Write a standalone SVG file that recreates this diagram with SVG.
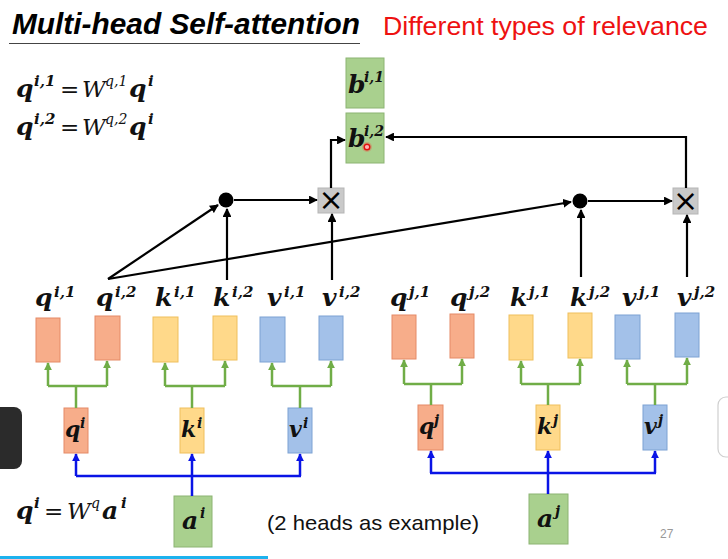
<svg xmlns="http://www.w3.org/2000/svg" width="728" height="559" viewBox="0 0 728 559">
  <defs>
    <style>
      .title { font-family: "Liberation Sans", Arial, sans-serif; font-weight: bold; font-style: italic; font-size: 29px; fill: #000; }
      .red { font-family: "Liberation Sans", Arial, sans-serif; font-size: 25px; fill: #ee1111; }
      .note { font-family: "Liberation Sans", Arial, sans-serif; font-size: 21px; fill: #111; }
      .page { font-family: "Liberation Sans", Arial, sans-serif; font-size: 12px; fill: #999; }
      .m { font-family: "DejaVu Serif", "Liberation Serif", serif; font-weight: bold; font-style: italic; font-size: 25px; fill: #111; }
      .mb { font-family: "DejaVu Serif", "Liberation Serif", serif; font-weight: bold; font-style: italic; font-size: 22px; fill: #111; }
      .mi { font-family: "DejaVu Serif", "Liberation Serif", serif; font-style: italic; font-size: 23px; fill: #111; }
      .eq { font-family: "DejaVu Serif", "Liberation Serif", serif; font-size: 23px; fill: #111; }
      .s { font-size: 15px; }
      .sb { font-size: 14px; }
      .q { fill: #f7ad8a; stroke: #e58a66; stroke-width: 1; }
      .k { fill: #ffd98a; stroke: #efbf5c; stroke-width: 1; }
      .v { fill: #a3c1e9; stroke: #7ca2d3; stroke-width: 1; }
      .g { fill: #a9d08e; stroke: #8cb473; stroke-width: 1; }
      .mul { fill: #c9c9c9; stroke: #b5b5b5; stroke-width: 1; }
      .blk { fill: none; stroke: #000; stroke-width: 2.2; }
      .grn { fill: none; stroke: #70ad47; stroke-width: 2.5; }
      .blu { fill: none; stroke: #0a14e6; stroke-width: 2.5; }
    </style>
    <marker id="ah" viewBox="0 0 10 10" refX="9" refY="5" markerWidth="4" markerHeight="4" orient="auto" markerUnits="strokeWidth">
      <path d="M0,0 L10,5 L0,10 z" fill="#000"/>
    </marker>
    <marker id="ag" viewBox="0 0 10 10" refX="9" refY="5" markerWidth="3.2" markerHeight="3.2" orient="auto" markerUnits="strokeWidth">
      <path d="M0,0 L10,5 L0,10 z" fill="#70ad47"/>
    </marker>
    <marker id="ab" viewBox="0 0 10 10" refX="9" refY="5" markerWidth="3.2" markerHeight="3.2" orient="auto" markerUnits="strokeWidth">
      <path d="M0,0 L10,5 L0,10 z" fill="#0a14e6"/>
    </marker>
  </defs>

  <rect x="0" y="0" width="728" height="559" fill="#fff"/>

  <!-- heading -->
  <g id="heading">
    <text class="title" x="12" y="34" textLength="348" lengthAdjust="spacingAndGlyphs">Multi-head Self-attention</text>
    <line x1="9" y1="43.5" x2="360" y2="43.5" stroke="#444" stroke-width="1.2"/>
    <text class="red" x="383" y="35" textLength="325" lengthAdjust="spacingAndGlyphs">Different types of relevance</text>
  </g>

  <!-- equations -->
  <g id="equations">
    <text class="m" x="16" y="97" font-size="25">q<tspan class="s" x="34" y="86">i,1</tspan></text>
    <text class="eq" x="60" y="97">=</text>
    <text class="mi" x="82" y="97">W<tspan font-size="14" x="105" y="86">q,1</tspan></text>
    <text class="m" x="129" y="97" font-size="25">q<tspan class="s" x="148" y="86">i</tspan></text>

    <text class="m" x="16" y="135" font-size="25">q<tspan class="s" x="34" y="124">i,2</tspan></text>
    <text class="eq" x="60" y="135">=</text>
    <text class="mi" x="82" y="135">W<tspan font-size="14" x="105" y="124">q,2</tspan></text>
    <text class="m" x="129" y="135" font-size="25">q<tspan class="s" x="148" y="124">i</tspan></text>

    <text class="m" x="16" y="519" font-size="25">q<tspan class="s" x="34" y="508">i</tspan></text>
    <text class="eq" x="44" y="519">=</text>
    <text class="mi" x="67" y="519">W<tspan font-size="14" x="91" y="508">q</tspan></text>
    <text class="m" x="102" y="519" font-size="25">a<tspan class="s" x="121" y="508">i</tspan></text>
  </g>

  <!-- outputs -->
  <g id="b-i1">
    <rect class="g" x="346" y="58" width="38" height="50"/>
    <text class="m" x="348" y="93" font-size="24">b<tspan class="sb" x="364" y="82">i,1</tspan></text>
  </g>
  <g id="b-i2">
    <rect class="g" x="346" y="113" width="38" height="50"/>
    <text class="m" x="348" y="147" font-size="24">b<tspan class="sb" x="364" y="136">i,2</tspan></text>
  </g>

  <!-- attention operators -->
  <g id="dot-i">
    <circle cx="226" cy="200" r="7.5" fill="#000"/>
  </g>
  <g id="mul-i">
    <rect class="mul" x="318" y="188" width="26" height="25"/>
    <text x="331" y="210" text-anchor="middle" font-family="'DejaVu Sans', sans-serif" font-size="30" fill="#000">×</text>
  </g>
  <g id="dot-j">
    <circle cx="580" cy="201" r="7.5" fill="#000"/>
  </g>
  <g id="mul-j">
    <rect class="mul" x="673" y="188" width="25" height="26"/>
    <text x="685.5" y="211" text-anchor="middle" font-family="'DejaVu Sans', sans-serif" font-size="30" fill="#000">×</text>
  </g>

  <!-- per-head vectors, token i -->
  <g id="qi1"><rect class="q" x="36" y="318" width="24" height="44"/><text class="m" x="35" y="306">q<tspan class="s" x="54" y="297">i,1</tspan></text></g>
  <g id="qi2"><rect class="q" x="95" y="316" width="25" height="44"/><text class="m" x="96" y="306">q<tspan class="s" x="115" y="297">i,2</tspan></text></g>
  <g id="ki1"><rect class="k" x="153" y="317" width="25" height="45"/><text class="m" x="155" y="306">k<tspan class="s" x="174" y="297">i,1</tspan></text></g>
  <g id="ki2"><rect class="k" x="213" y="316" width="24" height="44"/><text class="m" x="213" y="306">k<tspan class="s" x="232" y="297">i,2</tspan></text></g>
  <g id="vi1"><rect class="v" x="260" y="317" width="25" height="45"/><text class="m" x="267" y="306">v<tspan class="s" x="284" y="297">i,1</tspan></text></g>
  <g id="vi2"><rect class="v" x="319" y="316" width="24" height="44"/><text class="m" x="322" y="306">v<tspan class="s" x="339" y="297">i,2</tspan></text></g>

  <!-- per-head vectors, token j -->
  <g id="qj1"><rect class="q" x="392" y="315" width="24" height="44"/><text class="m" x="390" y="306">q<tspan class="s" x="409" y="297">j,1</tspan></text></g>
  <g id="qj2"><rect class="q" x="450" y="314" width="24" height="44"/><text class="m" x="450" y="306">q<tspan class="s" x="469" y="297">j,2</tspan></text></g>
  <g id="kj1"><rect class="k" x="509" y="315" width="24" height="45"/><text class="m" x="510" y="306">k<tspan class="s" x="529" y="297">j,1</tspan></text></g>
  <g id="kj2"><rect class="k" x="568" y="313" width="24" height="45"/><text class="m" x="570" y="306">k<tspan class="s" x="589" y="297">j,2</tspan></text></g>
  <g id="vj1"><rect class="v" x="615" y="315" width="25" height="44"/><text class="m" x="622" y="306">v<tspan class="s" x="639" y="297">j,1</tspan></text></g>
  <g id="vj2"><rect class="v" x="675" y="313" width="24" height="44"/><text class="m" x="677" y="306">v<tspan class="s" x="694" y="297">j,2</tspan></text></g>

  <!-- shared q/k/v, token i -->
  <g id="qi"><rect class="q" x="64" y="408" width="24" height="45"/><text class="mb" x="65" y="437">q<tspan class="sb" x="80" y="428">i</tspan></text></g>
  <g id="ki"><rect class="k" x="180" y="408" width="24" height="45"/><text class="mb" x="181" y="437">k<tspan class="sb" x="197" y="428">i</tspan></text></g>
  <g id="vi"><rect class="v" x="288" y="408" width="24" height="45"/><text class="mb" x="289" y="437">v<tspan class="sb" x="303" y="428">i</tspan></text></g>

  <!-- shared q/k/v, token j -->
  <g id="qj"><rect class="q" x="418" y="405" width="25" height="45"/><text class="mb" x="419" y="434">q<tspan class="sb" x="434" y="425">j</tspan></text></g>
  <g id="kj"><rect class="k" x="536" y="405" width="24" height="45"/><text class="mb" x="537" y="434">k<tspan class="sb" x="553" y="425">j</tspan></text></g>
  <g id="vj"><rect class="v" x="643" y="405" width="24" height="45"/><text class="mb" x="644" y="434">v<tspan class="sb" x="658" y="425">j</tspan></text></g>

  <!-- inputs -->
  <g id="ai"><rect class="g" x="174" y="496" width="38" height="51"/><text class="m" x="182" y="529" font-size="24">a<tspan class="sb" x="200" y="518">i</tspan></text></g>
  <g id="aj"><rect class="g" x="529" y="494" width="39" height="50"/><text class="m" x="537" y="527" font-size="24">a<tspan class="sb" x="555" y="516">j</tspan></text></g>

  <!-- connectors -->
  <g id="connectors">
    <!-- attention, head 2 -->
    <line class="blk" x1="108" y1="279" x2="218" y2="205" marker-end="url(#ah)"/>
    <line class="blk" x1="108" y1="279" x2="571" y2="202" marker-end="url(#ah)"/>
    <line class="blk" x1="227" y1="280" x2="227" y2="209" marker-end="url(#ah)"/>
    <line class="blk" x1="332" y1="280" x2="332" y2="214" marker-end="url(#ah)"/>
    <line class="blk" x1="234" y1="200" x2="317" y2="200" marker-end="url(#ah)"/>
    <polyline class="blk" points="331,188 331,140 345,140" marker-end="url(#ah)"/>
    <line class="blk" x1="581" y1="277" x2="581" y2="210" marker-end="url(#ah)"/>
    <line class="blk" x1="687" y1="277" x2="687" y2="215" marker-end="url(#ah)"/>
    <line class="blk" x1="588" y1="201" x2="672" y2="201" marker-end="url(#ah)"/>
    <polyline class="blk" points="686,188 686,137 386,137" marker-end="url(#ah)"/>

    <!-- head split, token i -->
    <polyline class="grn" points="76,408 76,386"/>
    <polyline class="grn" points="48,386 107,386"/>
    <line class="grn" x1="48" y1="386" x2="48" y2="363" marker-end="url(#ag)"/>
    <line class="grn" x1="107" y1="386" x2="107" y2="361" marker-end="url(#ag)"/>
    <polyline class="grn" points="192,408 192,386"/>
    <polyline class="grn" points="165,386 225,386"/>
    <line class="grn" x1="165" y1="386" x2="165" y2="363" marker-end="url(#ag)"/>
    <line class="grn" x1="225" y1="386" x2="225" y2="361" marker-end="url(#ag)"/>
    <polyline class="grn" points="300,408 300,386"/>
    <polyline class="grn" points="272,386 331,386"/>
    <line class="grn" x1="272" y1="386" x2="272" y2="363" marker-end="url(#ag)"/>
    <line class="grn" x1="331" y1="386" x2="331" y2="361" marker-end="url(#ag)"/>

    <!-- head split, token j -->
    <polyline class="grn" points="431,405 431,384"/>
    <polyline class="grn" points="404,384 462,384"/>
    <line class="grn" x1="404" y1="384" x2="404" y2="360" marker-end="url(#ag)"/>
    <line class="grn" x1="462" y1="384" x2="462" y2="359" marker-end="url(#ag)"/>
    <polyline class="grn" points="548,405 548,384"/>
    <polyline class="grn" points="521,384 580,384"/>
    <line class="grn" x1="521" y1="384" x2="521" y2="361" marker-end="url(#ag)"/>
    <line class="grn" x1="580" y1="384" x2="580" y2="359" marker-end="url(#ag)"/>
    <polyline class="grn" points="655,405 655,384"/>
    <polyline class="grn" points="627,384 687,384"/>
    <line class="grn" x1="627" y1="384" x2="627" y2="360" marker-end="url(#ag)"/>
    <line class="grn" x1="687" y1="384" x2="687" y2="358" marker-end="url(#ag)"/>

    <!-- projections from inputs -->
    <polyline class="blu" points="76,476 301,476"/>
    <line class="blu" x1="76" y1="476" x2="76" y2="454" marker-end="url(#ab)"/>
    <line class="blu" x1="192" y1="496" x2="192" y2="454" marker-end="url(#ab)"/>
    <line class="blu" x1="300" y1="476" x2="300" y2="454" marker-end="url(#ab)"/>
    <polyline class="blu" points="430,473 656,473"/>
    <line class="blu" x1="431" y1="473" x2="431" y2="451" marker-end="url(#ab)"/>
    <line class="blu" x1="548" y1="494" x2="548" y2="451" marker-end="url(#ab)"/>
    <line class="blu" x1="655" y1="473" x2="655" y2="451" marker-end="url(#ab)"/>
  </g>

  <!-- captions and slide furniture -->
  <text class="note" x="267" y="530" textLength="212" lengthAdjust="spacingAndGlyphs">(2 heads as example)</text>
  <text class="page" x="660" y="538">27</text>
  <path d="M0,407 H14 A8,8 0 0 1 22,415 V461 A8,8 0 0 1 14,469 H0 Z" fill="#2b2b2b"/>
  <path d="M729,397 H726 A8,8 0 0 0 718,405 V449 A8,8 0 0 0 726,457 H729" fill="#fff" stroke="#cfcfcf" stroke-width="1.2"/>
  <line x1="0" y1="557.5" x2="268" y2="557.5" stroke="#1db2ee" stroke-width="3"/>
  <!-- pointer mark -->
  <circle cx="367" cy="147" r="5" fill="#ff3030" opacity="0.25"/>
  <circle cx="367" cy="147" r="2.8" fill="#ffb0b0" stroke="#e01010" stroke-width="1.4"/>
</svg>
